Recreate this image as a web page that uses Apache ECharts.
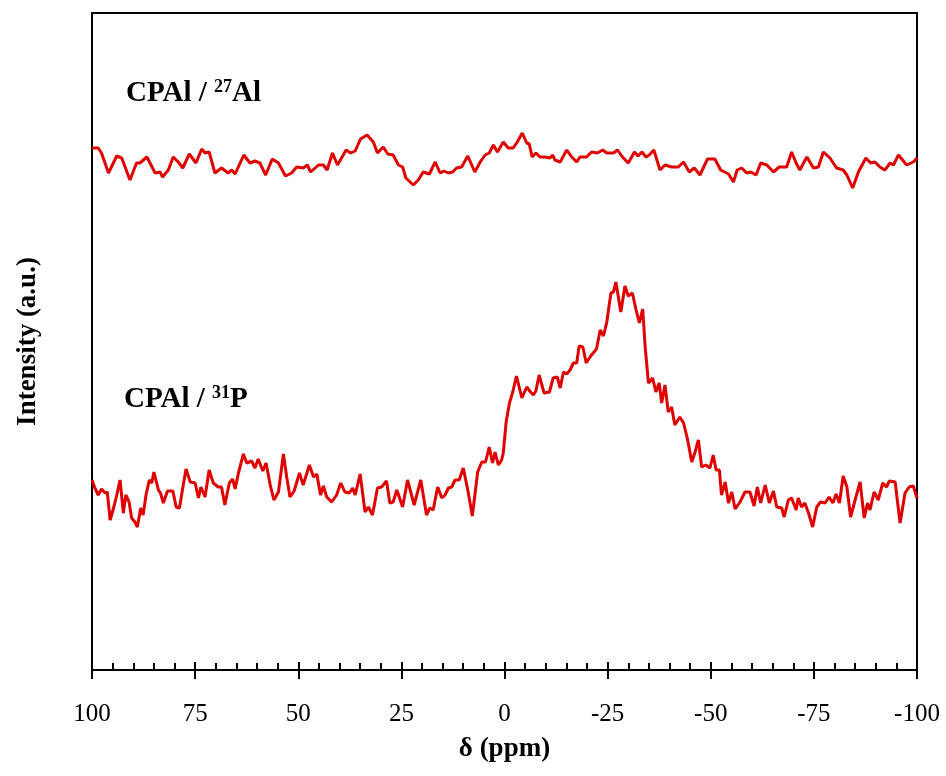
<!DOCTYPE html>
<html>
<head>
<meta charset="utf-8">
<script src="https://cdn.jsdelivr.net/npm/echarts@6/dist/echarts.min.js"></script>
<style>
html,body{margin:0;padding:0;background:#fff;}
#chart{width:946px;height:776px;}
</style>
</head>
<body>
<div id="chart"></div>
<script>
// ---- data (chemical shift in ppm, intensity in arbitrary units) ----
var ppmAl = [100.0, 98.5, 97.7, 96.0, 94.0, 92.8, 90.8, 89.2, 88.4, 86.7, 84.7, 83.5, 82.9, 81.5, 80.3, 79.1, 78.0, 76.4, 74.8, 73.4, 72.6, 71.6, 70.2, 68.6, 67.0, 66.1, 65.3, 63.2, 61.7, 60.5, 59.3, 57.9, 56.3, 54.8, 53.1, 51.6, 50.4, 48.8, 47.8, 47.0, 45.1, 43.9, 43.0, 41.7, 40.5, 38.4, 37.3, 36.2, 34.9, 33.3, 31.8, 30.8, 29.4, 28.3, 27.0, 25.7, 24.7, 23.9, 22.1, 20.9, 19.7, 18.2, 16.8, 15.6, 14.7, 13.6, 12.6, 11.6, 10.4, 8.9, 7.2, 5.9, 4.7, 3.7, 2.7, 1.7, 0.3,
  -0.9, -2.1, -3.1, -4.3, -5.4, -6.0, -6.7, -7.6, -8.6, -9.8, -11.0, -11.7, -12.2, -13.5, -15.1, -16.3, -17.5, -18.3, -19.9, -21.1, -22.5, -23.8, -24.8, -26.4, -27.4, -28.6, -30.0, -31.5, -32.4, -33.3, -34.3, -35.1, -36.2, -37.7, -38.9, -40.5, -42.1, -43.4, -44.8, -46.0, -47.4, -49.2, -51.0, -52.4, -54.3, -55.5, -56.4, -57.5, -58.7, -59.7, -61.0, -62.1, -63.6, -65.2, -66.6, -68.4, -69.6, -70.7, -71.6, -73.3, -74.9, -76.1, -77.3, -78.9, -80.5, -82.1, -83.0, -84.4, -85.8, -87.6, -88.8, -89.8, -91.0, -92.2, -93.5, -94.3, -95.5, -97.5, -99.1, -100.0];
var intAl = [522, 522, 517, 497, 514, 512, 490, 507, 507, 513, 497, 498, 493, 500, 513, 508, 502, 516, 507, 521, 517, 518, 497, 502, 497, 500, 496, 515, 507, 509, 507, 495, 511, 507, 494, 497, 503, 502, 505, 498, 505, 505, 500, 517, 505, 520, 517, 519, 531, 535, 528, 517, 523, 516, 515, 505, 503, 492, 485, 490, 498, 496, 508, 497, 499, 497, 498, 502, 503, 514, 498, 508, 515, 517, 525, 518, 528,
  522, 522, 528, 537, 527, 526, 513, 517, 513, 513, 512, 515, 510, 508, 520, 513, 508, 513, 513, 518, 517, 520, 517, 517, 520, 513, 507, 518, 514, 518, 513, 515, 520, 500, 505, 503, 503, 508, 498, 502, 495, 511, 511, 500, 496, 488, 500, 502, 497, 498, 495, 507, 505, 498, 503, 503, 518, 507, 500, 513, 502, 503, 518, 512, 502, 500, 495, 482, 498, 512, 507, 508, 503, 500, 507, 505, 515, 505, 508, 512];

var ppmP = [100.0, 99.3, 98.5, 97.7, 96.8, 96.3, 95.6, 94.7, 94.0, 93.2, 92.4, 91.8, 91.0, 90.4, 89.6, 89.0, 88.2, 87.6, 86.9, 86.1, 85.5, 85.0, 83.9, 83.4, 82.7, 81.7, 80.4, 79.6, 78.8, 78.0, 77.2, 76.2, 75.0, 74.2, 73.6, 72.6, 71.6, 70.6, 69.4, 68.6, 67.8, 66.7, 65.9, 65.3, 64.5, 63.3, 62.5, 61.3, 60.5, 59.7, 58.6, 57.8, 56.8, 55.9, 54.8, 53.6, 52.8, 52.0, 51.0, 49.7, 48.8, 47.3, 46.3, 45.5, 44.6, 43.9, 43.1, 41.9, 40.7, 39.7, 38.7, 37.6, 36.8, 36.2, 35.0, 33.8, 33.0, 32.0, 30.8, 29.8, 28.6, 27.8, 27.0, 26.1, 24.7, 23.5, 21.9, 20.3, 18.9, 18.1, 17.3, 16.2, 15.2, 14.4, 13.6, 12.8, 12.0, 11.0, 10.0, 8.9, 7.8, 6.5, 5.5, 4.6, 3.7, 2.9, 2.3, 1.5, 0.7,
  0.3, -0.4, -1.2, -2.0, -2.9, -4.2, -5.4, -6.3, -7.0, -7.6, -8.4, -9.6, -10.9, -11.8, -12.8, -13.5, -14.3, -15.1, -15.9, -16.7, -17.5, -18.1, -19.0, -19.8, -20.9, -22.3, -23.2, -24.0, -24.8, -25.8, -26.4, -27.0, -28.2, -29.2, -30.0, -31.0, -31.9, -32.7, -33.5, -34.1, -34.9, -35.9, -36.7, -37.5, -38.1, -38.9, -39.7, -40.5, -41.3, -42.5, -43.4, -44.3, -45.4, -46.2, -47.0, -47.8, -48.8, -49.8, -50.6, -51.3, -52.1, -52.6, -53.5, -54.3, -55.1, -55.9, -57.1, -58.3, -59.5, -60.5, -61.3, -62.1, -63.2, -64.2, -65.2, -66.0, -67.2, -67.8, -68.8, -69.6, -70.7, -71.2, -72.0, -72.8, -73.7, -74.7, -75.7, -76.6, -77.7, -78.7, -79.6, -80.4, -81.2, -82.1, -83.0, -83.9, -85.2, -86.2, -87.2, -88.0, -88.6, -89.6, -90.6, -91.7, -92.6, -93.3, -94.7, -95.9, -97.1, -98.1, -99.1, -100.0];
var intP = [190, 182, 175, 181, 177, 178, 150, 163, 175, 190, 157, 175, 168, 152, 148, 143, 162, 155, 175, 190, 187, 198, 180, 177, 167, 179, 179, 163, 162, 182, 201, 188, 187, 172, 183, 173, 200, 187, 183, 183, 165, 187, 191, 181, 197, 216, 207, 209, 202, 211, 199, 207, 185, 170, 178, 216, 193, 173, 179, 197, 185, 205, 193, 196, 175, 184, 173, 168, 175, 187, 178, 177, 182, 175, 196, 158, 163, 155, 182, 183, 189, 167, 168, 180, 163, 190, 165, 190, 155, 162, 160, 183, 172, 175, 182, 183, 190, 190, 202, 180, 154, 198, 208, 208, 223, 207, 218, 205, 210,
  217, 248, 267, 278, 294, 272, 283, 278, 275, 279, 295, 277, 278, 292, 293, 282, 298, 296, 300, 307, 307, 324, 323, 307, 314, 321, 340, 334, 348, 377, 378, 388, 358, 384, 374, 377, 360, 347, 361, 323, 287, 292, 278, 287, 267, 285, 258, 263, 245, 253, 247, 232, 208, 218, 230, 203, 205, 202, 215, 200, 200, 175, 188, 167, 178, 161, 168, 178, 178, 164, 183, 167, 185, 167, 179, 163, 162, 153, 170, 172, 160, 172, 163, 167, 157, 143, 163, 168, 167, 173, 167, 176, 167, 194, 183, 153, 173, 188, 152, 167, 160, 178, 170, 187, 183, 189, 188, 147, 177, 183, 184, 172];

var xTicks = [100, 75, 50, 25, 0, -25, -50, -75, -100];
var xName = 'δ (ppm)';
var yName = 'Intensity (a.u.)';
var labelAl = ['CPAl / ', '27', 'Al'];
var labelP = ['CPAl / ', '31', 'P'];

function pairs(xs, ys) { return xs.map(function (x, i) { return [x, ys[i]]; }); }

var FONT = '"Liberation Serif", "DejaVu Serif", serif';
var RED = '#E00000';

var chart = echarts.init(document.getElementById('chart'), null, { renderer: 'canvas' });

var richLabel = {
  b: { fontFamily: FONT, fontWeight: 'bold', fontSize: 29, color: '#000', lineHeight: 32 },
  s: { fontFamily: FONT, fontWeight: 'bold', fontSize: 18, color: '#000', verticalAlign: 'top', lineHeight: 32 }
};

chart.setOption({
  animation: false,
  backgroundColor: '#fff',
  grid: { left: 92, right: 29, top: 13, bottom: 106, show: true, borderColor: '#000', borderWidth: 2, backgroundColor: 'transparent' },
  xAxis: [{
    type: 'value', min: -100, max: 100, interval: 25, inverse: true,
    axisLine: { show: true, onZero: false, lineStyle: { color: '#000', width: 2 } },
    axisTick: { show: true, inside: true, length: 8, lineStyle: { color: '#000', width: 2 } },
    minorTick: { show: true, splitNumber: 5, length: 7, lineStyle: { color: '#000', width: 2 } },
    splitLine: { show: false },
    axisLabel: { show: true, margin: 32, fontFamily: FONT, fontSize: 25, color: '#000',
      formatter: function (v) { return xTicks.indexOf(v) >= 0 ? String(v) : ''; } },
    name: xName, nameLocation: 'middle', nameGap: 66,
    nameTextStyle: { fontFamily: FONT, fontWeight: 'bold', fontSize: 27, color: '#000' }
  }, {
    type: 'value', min: -100, max: 100, interval: 25, inverse: true, position: 'bottom', offset: 0,
    axisLine: { show: false, onZero: false },
    axisTick: { show: true, inside: false, length: 9, lineStyle: { color: '#000', width: 2 } },
    axisLabel: { show: false }, splitLine: { show: false }
  }],
  yAxis: {
    type: 'value', min: 0, max: 657, position: 'left',
    axisLine: { show: true, onZero: false, lineStyle: { color: '#000', width: 2 } },
    axisTick: { show: false }, axisLabel: { show: false }, splitLine: { show: false },
    name: yName, nameLocation: 'middle', nameGap: 50, nameRotate: 90,
    nameTextStyle: { fontFamily: FONT, fontWeight: 'bold', fontSize: 27, color: '#000' }
  },
  series: [{
    type: 'line', name: 'Al', data: pairs(ppmAl, intAl), showSymbol: false, smooth: false,
    lineStyle: { color: RED, width: 3 }, itemStyle: { color: RED }
  }, {
    type: 'line', name: 'P', data: pairs(ppmP, intP), showSymbol: false, smooth: false,
    lineStyle: { color: RED, width: 3 }, itemStyle: { color: RED }
  }],
  graphic: [{
    type: 'text', left: 126, top: 78,
    style: { text: '{b|' + labelAl[0] + '}{s|' + labelAl[1] + '}{b|' + labelAl[2] + '}', rich: richLabel }
  }, {
    type: 'text', left: 124, top: 384,
    style: { text: '{b|' + labelP[0] + '}{s|' + labelP[1] + '}{b|' + labelP[2] + '}', rich: richLabel }
  }]
});
</script>
</body>
</html>
